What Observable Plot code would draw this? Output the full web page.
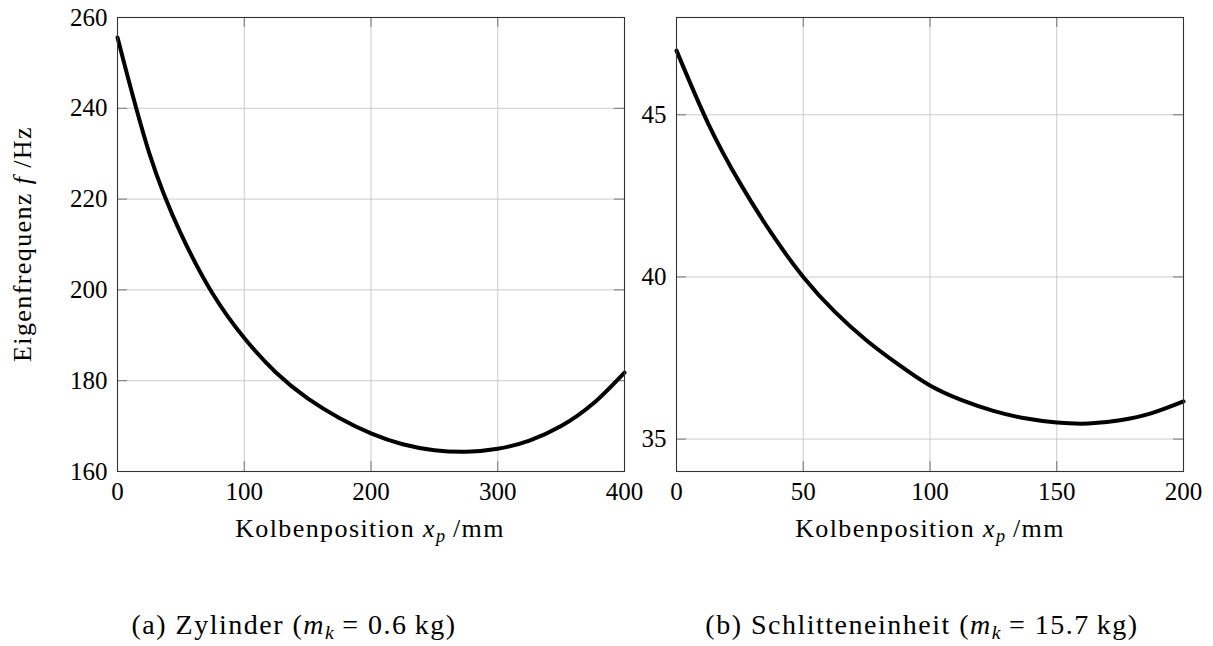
<!DOCTYPE html>
<html>
<head>
<meta charset="utf-8">
<script src="https://cdn.jsdelivr.net/npm/d3@7"></script>
<script src="https://cdn.jsdelivr.net/npm/@observablehq/plot@0.6"></script>
<style>
  body { margin: 0; background: #fff; font-family: "Liberation Serif", "DejaVu Serif", serif; }
  #wrap { position: relative; width: 1213px; height: 646px; overflow: hidden; }
  .panel { position: absolute; top: 0; background: transparent; }
  .lbl { position: absolute; font-size: 26px; line-height: 26px; letter-spacing: 1.4px; color: #000; white-space: nowrap; transform: translateX(-50%); }
  .cap { font-size: 28px; line-height: 28px; letter-spacing: 1.5px; }
  .ylbl { transform: translate(-50%, -50%) rotate(-90deg); }
  sub { font-size: 70%; vertical-align: -0.25em; line-height: 0; letter-spacing: 0; }
</style>
</head>
<body>
<div id="wrap"></div>
<script>
// Panel (a): Zylinder
const xA = [0, 25, 50, 75, 100, 125, 150, 175, 200, 225, 250, 275, 300, 325, 350, 375, 400];
const fA = [255.6, 230.2, 212.4, 199.2, 189.4, 181.8, 176.1, 171.8, 168.4, 166.0, 164.7, 164.35, 165.0, 166.8, 170.0, 174.9, 181.8];
const xTicksA = [0, 100, 200, 300, 400];
const yTicksA = [160, 180, 200, 220, 240, 260];

// Panel (b): Schlitteneinheit
const xB = [0, 12.5, 25, 37.5, 50, 62.5, 75, 87.5, 100, 112.5, 125, 137.5, 150, 162.5, 175, 187.5, 200];
const fB = [46.98, 44.73, 42.90, 41.34, 40.00, 38.92, 38.04, 37.30, 36.65, 36.20, 35.87, 35.64, 35.51, 35.48, 35.58, 35.80, 36.16];
const xTicksB = [0, 50, 100, 150, 200];
const yTicksB = [35, 40, 45];

const font = '"Liberation Serif", "DejaVu Serif", serif';

function panel({xs, ys, xDomain, yDomain, xTicks, yTicks, width, height, ml, mr, mt, mb}) {
  const data = xs.map((x, i) => ({x, y: ys[i]}));
  const innerH = height - mt - mb;
  const innerW = width - ml - mr;
  const tl = 10; // tick length (px)
  return Plot.plot({
    width, height,
    marginLeft: ml, marginRight: mr, marginTop: mt, marginBottom: mb,
    style: {fontFamily: font, fontSize: "25px", color: "#000", background: "transparent", overflow: "visible"},
    x: {domain: xDomain},
    y: {domain: yDomain},
    marks: [
      Plot.ruleX(xTicks, {x: d => d, stroke: "#cbcbcb", strokeWidth: 1}),
      Plot.ruleY(yTicks, {y: d => d, stroke: "#cbcbcb", strokeWidth: 1}),
      Plot.tickX(xTicks, {x: d => d, stroke: "#777", insetTop: innerH - tl}),
      Plot.tickX(xTicks, {x: d => d, stroke: "#777", insetBottom: innerH - tl}),
      Plot.tickY(yTicks, {y: d => d, stroke: "#777", insetRight: innerW - tl}),
      Plot.tickY(yTicks, {y: d => d, stroke: "#777", insetLeft: innerW - tl}),
      Plot.line(data, {x: "x", y: "y", curve: "natural", stroke: "#000", strokeWidth: 4}),
      Plot.frame({stroke: "#333", strokeWidth: 1.1}),
      Plot.axisX({ticks: xTicks, tickSize: 0, tickPadding: 11, label: null, fontSize: 25}),
      Plot.axisY({ticks: yTicks, tickSize: 0, tickPadding: 10, label: null, fontSize: 25})
    ]
  });
}

const wrap = document.getElementById("wrap");

const pa = panel({xs: xA, ys: fA, xDomain: [0, 400], yDomain: [160, 260], xTicks: xTicksA, yTicks: yTicksA,
  width: 645, height: 560, ml: 117, mr: 21, mt: 17, mb: 89});
pa.classList.add("panel"); pa.style.left = "0px";
wrap.appendChild(pa);

const pb = panel({xs: xB, ys: fB, xDomain: [0, 200], yDomain: [34, 48], xTicks: xTicksB, yTicks: yTicksB,
  width: 573, height: 560, ml: 36, mr: 30, mt: 17, mb: 89});
pb.classList.add("panel"); pb.style.left = "640px";
wrap.appendChild(pb);

function label(html, x, y, cls) {
  const d = document.createElement("div");
  d.className = "lbl" + (cls ? " " + cls : "");
  d.innerHTML = html;
  d.style.left = x + "px"; d.style.top = y + "px";
  wrap.appendChild(d);
}
label('Kolbenposition <i>x<sub>p</sub></i> /mm', 370, 516);
label('Kolbenposition <i>x<sub>p</sub></i> /mm', 930, 516);
label('Eigenfrequenz <i>f</i> /Hz', 23, 244, "ylbl");
label('(a) Zylinder (<i>m<sub>k</sub></i> = 0.6&#8201;kg)', 294, 611, "cap");
label('(b) Schlitteneinheit (<i>m<sub>k</sub></i> = 15.7&#8201;kg)', 922, 611, "cap");
</script>
</body>
</html>
